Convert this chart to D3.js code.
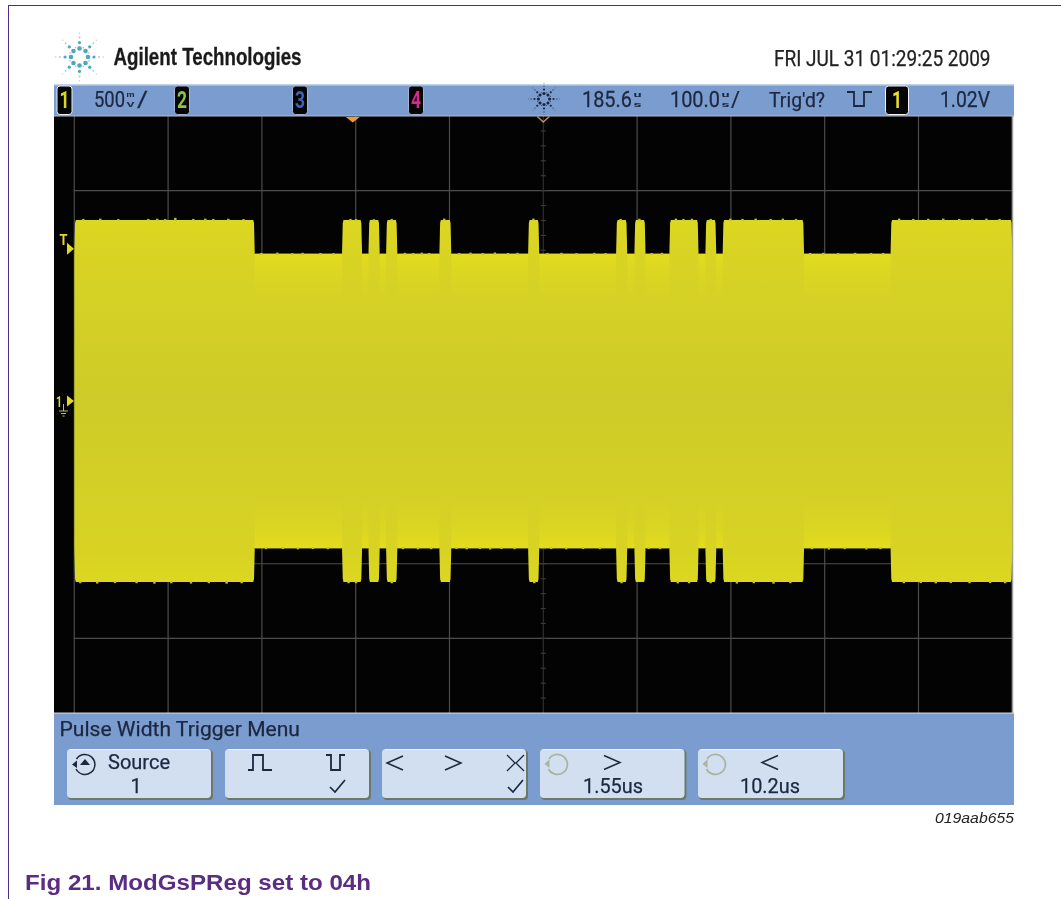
<!DOCTYPE html>
<html><head><meta charset="utf-8">
<script src="https://cdn.jsdelivr.net/npm/d3@7/dist/d3.min.js"></script>
<style>html,body{margin:0;padding:0;background:#fff}svg{display:block;filter:blur(.4px)}text{font-family:Roboto,sans-serif}</style>
</head><body><svg id="c" width="1061" height="899"></svg>
<script>
// ---- data ----
const timePerDiv = 100, timeCentre = 185.6;      // us
const voltPerDiv = 0.5, triggerLevel = 1.02;     // V
const highLevel = 1.213, lowLevel = 0.985;       // V, symmetric about ground
const burstStart = [-314.4,-29,-0.8,18,74.8,169.4,263.2,282.7,320,358.4,376.8,555.8];
const burstEnd   = [-122,-7.6,11.2,30,87.5,181.3,275.1,294.6,351.1,370,463.6,685.6];
const topSpikes = [[-304.8,.007],[-286.7,.009],[-267.5,.006],[-235.5,.007],[-225.9,.008],[-217.4,.006],[-206.7,.014],[-187.5,.007],[-174.7,.009],[-166.2,.007],[-150.2,.008],[-134,.006],
 [-115,.007],[-98,.009],[-82,.006],[-71,.008],[-52,.007],[-38,.006],[-20,.007],[38,.008],[47,.007],[56,.009],[64,.007],[96,.007],[108,.009],[121,.007],[134,.01],[148,.007],[158,.008],[190,.007],[205,.008],[221,.006],[240,.008],[252,.007],[301,.007],[312,.008],
 [-14,.006],[5,.005],[24,.007],[80,.009],[175,.009],[268,.007],[288,.008],[327,.009],[335,.007],[344,.008],[364,.007],[385,.009],[398,.007],[412,.009],[428,.007],[441,.009],[455,.007],[470,.007],[484,.008],[500,.006],[518,.008],[535,.007],[548,.007],[565,.009],[580,.007],[596,.008],[612,.009],[629,.007],[643,.008],[658,.009],[672,.007]];
const bottomSpikes = [[-308,.008],[-290,.01],[-271,.007],[-248,.008],[-229,.011],[-211,.008],[-190,.01],[-171,.008],[-152,.011],[-136,.008],
 [-110,.008],[-92,.007],[-76,.009],[-60,.007],[-44,.008],[-22,.008],[-14,.008],[24,.008],[36,.008],[52,.009],[66,.008],[93,.007],[104,.009],[118,.007],[129,.01],[141,.007],[155,.008],[176,.008],[194,.007],[210,.009],[228,.007],[246,.008],[269,.008],[298,.007],[310,.008],[329,.009],[341,.008],[364,.008],[392,.01],[410,.008],[431,.011],[449,.008],[472,.008],[490,.01],[507,.008],[530,.01],[545,.008],[570,.008],[588,.007],[604,.009],[620,.007],[640,.008],[662,.007],[678,.008]];
const channelLabels = ["1","2","3","4"];
const channelColors = ["#d8d428","#8cc63f","#3f62b8","#d42a8a"];
const caption = "Fig 21. ModGsPReg set to 04h";

// ---- layout ----
const svg = d3.select("#c");
const xLeft=74.3, xRight=1012.3, yTop=116, yBot=713, gnd=401;
const x = d3.scaleLinear().domain([timeCentre-5*timePerDiv,timeCentre+5*timePerDiv]).range([xLeft,xRight]);
const pxPerVolt = (yBot-yTop)/8/voltPerDiv;
const y = d3.scaleLinear().domain([0,1]).range([gnd,gnd-pxPerVolt]);
const txt = (p,s,a)=>{const t=p.append("text").text(s);Object.entries(a).forEach(([k,v])=>t.attr(k,v));return t;};
const fit = (p,s,xx,yy,w,fs,fill)=>txt(p,s,{x:xx,y:yy,textLength:w,lengthAdjust:"spacingAndGlyphs","font-size":fs,fill:fill||"#1c2840",stroke:fill||"#1c2840","stroke-width":.25});
// same, narrowed with a transform so the text's box is the drawn width
const squeeze = (p,s,xx,yy,w,fs)=>{const t=txt(p,s,{"font-size":fs,fill:"#1c2840",stroke:"#1c2840","stroke-width":.25});
 const k=w/t.node().getComputedTextLength(); t.attr("transform",`translate(${xx},${yy}) scale(${k},1)`); return t;};

const defs = svg.append("defs");
function grad(id,stops){const g=defs.append("linearGradient").attr("id",id).attr("gradientUnits","userSpaceOnUse").attr("x1",0).attr("x2",0).attr("y1",y(highLevel)).attr("y2",y(-highLevel));
 stops.forEach(s=>g.append("stop").attr("offset",s[0]).attr("stop-color",s[1]).attr("stop-opacity",s[2]===undefined?1:s[2]));}
grad("body",[[0,"#dcd720"],[.08,"#d9d423"],[.25,"#d4d026"],[.5,"#cecb28"],[.75,"#d4d026"],[.92,"#d8d323"],[1,"#dcd720"]]);
grad("lowGlow",[[0.09,"#e6df1c",0],[.095,"#e6df1c",.8],[.14,"#e2dc1e",.45],[.24,"#dcd622",0],[.76,"#dcd622",0],[.86,"#e2dc1e",.45],[.905,"#e6df1c",.8],[.91,"#e6df1c",0]]);

// ---- page frame ----
svg.append("rect").attr("width",1061).attr("height",899).attr("fill","#fff");
svg.append("line").attr("x1",8).attr("x2",1061).attr("y1",5.5).attr("y2",5.5).attr("stroke","#4f2d8c").attr("stroke-width",1);
svg.append("line").attr("x1",8.5).attr("x2",8.5).attr("y1",5).attr("y2",899).attr("stroke","#4f2d8c").attr("stroke-width",1);

// ---- header ----
function spark(cx,cy,k,c1,c2){const g=svg.append("g");
 d3.range(8).forEach(i=>{const a=i*Math.PI/4;
  [[10,2.7,c1],[17,1.9,c1],[23,1.2,c2],[28,.8,c2]].forEach(d=>{
   g.append("circle").attr("cx",cx+Math.cos(a)*d[0]*k).attr("cy",cy+Math.sin(a)*d[0]*k).attr("r",d[1]*k).attr("fill",d[2]);});});
 d3.range(8).forEach(i=>{const a=i*Math.PI/4+Math.PI/8;g.append("circle").attr("cx",cx+Math.cos(a)*12*k).attr("cy",cy+Math.sin(a)*12*k).attr("r",1*k).attr("fill",c2);});
}
spark(79.5,57,.85,"#4fa6c0","#a8d0dc");
txt(svg,"Agilent Technologies",{x:113.5,y:65,"font-size":23,"font-weight":700,fill:"#1a1a1a",stroke:"#1a1a1a","stroke-width":.3,textLength:188,lengthAdjust:"spacingAndGlyphs",style:"font-family:'Liberation Sans',Arial,sans-serif"});
fit(svg,"FRI JUL 31 01:29:25 2009",774,66,216.5,22,"#222");

// ---- top bar ----
svg.append("rect").attr("x",54).attr("y",84.5).attr("width",960).attr("height",32).attr("fill","#7b9ccf");
svg.append("line").attr("x1",54).attr("x2",1014).attr("y1",85).attr("y2",85).attr("stroke","#c8d6ea");
const chipX=[57,174.5,292.5,408.5];
function chip(cx,w,label,col,border){
 svg.append("rect").attr("x",cx).attr("y",86).attr("width",w).attr("height",28.5).attr("rx",3).attr("fill","#050505").attr("stroke",border).attr("stroke-width",1);
 txt(svg,label,{x:cx+w/2,y:108,"text-anchor":"middle","font-size":23,"font-weight":700,fill:col,textLength:10,lengthAdjust:"spacingAndGlyphs"});
}
channelLabels.forEach((l,i)=>chip(chipX[i],15,l,channelColors[i],i==0?"#e8eef6":"#9fb4d6"));
chip(885.5,23,"1","#e8e030","#f0f4fa");
function stack(xx,a,b){txt(svg,a,{x:xx,y:97,"font-size":8,"font-weight":700,fill:"#1c2840",textLength:8,lengthAdjust:"spacingAndGlyphs"});
 txt(svg,b,{x:xx,y:106.5,"font-size":8,"font-weight":700,fill:"#1c2840",textLength:8,lengthAdjust:"spacingAndGlyphs"});}
squeeze(svg,"500",94,107,31,22); stack(126.5,"m","V"); squeeze(svg,"/",137,107,11,22);
spark(544,99,.56,"#16233c","#2c3d5c");
squeeze(svg,"185.6",582,107,50,22); stack(633.5,"u","s");
squeeze(svg,"100.0",670,107,50,22); stack(721.5,"u","s"); squeeze(svg,"/",731,107,9,22);
fit(svg,"Trig'd?",769,107,56,21);
svg.append("path").attr("d","M847,92H854V106H864V92H872").attr("fill","none").attr("stroke","#1c2840").attr("stroke-width",1.8);
fit(svg,"1.02V",940,107,50,22);

// ---- screen ----
svg.append("rect").attr("x",54).attr("y",116).attr("width",958.5).attr("height",597).attr("fill","#030303");
const xGrid=d3.range(-5,6).map(d=>timeCentre+d*timePerDiv);
const yDiv=d3.range(1,8).map(d=>(yTop+(yBot-yTop)*d/8-gnd)/-pxPerVolt); // volts of each horizontal graticule line
const grid=svg.append("g").attr("stroke","#4c4c4c").attr("stroke-width",1.2);
xGrid.filter(t=>t!==timeCentre).forEach(t=>grid.append("line").attr("x1",x(t)).attr("x2",x(t)).attr("y1",yTop).attr("y2",yBot));
yDiv.forEach(v=>grid.append("line").attr("x1",xLeft).attr("x2",xRight).attr("y1",y(v)).attr("y2",y(v)));
grid.append("line").attr("x1",x(timeCentre)).attr("x2",x(timeCentre)).attr("y1",yTop).attr("y2",yBot).attr("stroke","#2e2e2e");
d3.range(1,40).forEach(i=>{const yy=yTop+i*(yBot-yTop)/40;grid.append("line").attr("x1",x(timeCentre)-2.5).attr("x2",x(timeCentre)+2.5).attr("y1",yy).attr("y2",yy).attr("stroke","#3a3a3a");});
svg.append("line").attr("x1",1012.5).attr("x2",1012.5).attr("y1",yTop).attr("y2",yBot).attr("stroke","#9a9a9a").attr("stroke-width",1.5);
svg.append("line").attr("x1",54).attr("x2",1014).attr("y1",713).attr("y2",713).attr("stroke","#c4cede").attr("stroke-width",1.2);
svg.append("line").attr("x1",54).attr("x2",1014).attr("y1",116).attr("y2",116).attr("stroke","#b4bcc8").attr("stroke-width",1);

// ---- trace envelope ----
const trace=svg.append("g").style("filter","blur(.5px)");
const ramp=.8;
let tp=[];
burstStart.forEach((s,i)=>{tp.push([s,lowLevel],[s+ramp,highLevel-.02],[s+ramp*2,highLevel],[burstEnd[i]-ramp*2,highLevel],[burstEnd[i]-ramp,highLevel-.02],[burstEnd[i],lowLevel]);});
const area=d3.area().x(d=>x(d[0])).y0(d=>y(-d[1])).y1(d=>y(d[1]));
trace.append("path").datum(tp).attr("d",area).attr("fill","url(#body)");
// brighter band hugging the envelope edge where the carrier is at low level
const gaps=burstStart.slice(1).map((s,i)=>[burstEnd[i],s]);
trace.selectAll("rect.gap").data(gaps).join("rect").attr("x",d=>x(d[0])).attr("width",d=>x(d[1])-x(d[0]))
 .attr("y",y(highLevel)).attr("height",y(-highLevel)-y(highLevel)).attr("fill","url(#lowGlow)");
// hand-read noise spikes on the edges
const levelAt=t=>burstStart.some((s,i)=>t>=s&&t<=burstEnd[i])?highLevel:lowLevel;
trace.selectAll("rect.ts").data(topSpikes).join("rect").attr("x",d=>x(d[0])-1.2).attr("width",2.4)
 .attr("y",d=>y(levelAt(d[0])+d[1])).attr("height",d=>y(levelAt(d[0]))-y(levelAt(d[0])+d[1])+1).attr("fill","#c8c424");
trace.selectAll("rect.bs").data(bottomSpikes).join("rect").attr("x",d=>x(d[0])-1.2).attr("width",2.4)
 .attr("y",d=>y(-levelAt(d[0]))-1).attr("height",d=>y(-levelAt(d[0])-d[1])-y(-levelAt(d[0]))+1).attr("fill","#c8c424");

// ---- markers ----
svg.append("path").attr("d",`M${x(-17.5)-7},117L${x(-17.5)+7},117L${x(-17.5)},122.5Z`).attr("fill","#f09a3c");
svg.append("path").attr("d",`M${x(timeCentre)-6},116.5L${x(timeCentre)},122L${x(timeCentre)+6},116.5`).attr("fill","none").attr("stroke","#c89060").attr("stroke-width",1.3);
txt(svg,"T",{x:59.5,y:245,"font-size":15,"font-weight":700,fill:"#e0da30",textLength:8,lengthAdjust:"spacingAndGlyphs"});
svg.append("path").attr("d",`M67,${y(triggerLevel)-6}L74,${y(triggerLevel)}L67,${y(triggerLevel)+6}Z`).attr("fill","#e0da20");
txt(svg,"1",{x:56,y:407,"font-size":15,"font-weight":700,fill:"#e0da30",textLength:6,lengthAdjust:"spacingAndGlyphs"});
svg.append("path").attr("d",`M67,${y(0)-5.5}L74,${y(0)}L67,${y(0)+5.5}Z`).attr("fill","#e0da20");
svg.append("path").attr("d","M63.5,404V411M59,411H68M61,413.5H66M62.5,416H64.5").attr("fill","none").attr("stroke","#c8c230").attr("stroke-width",1);

// ---- bottom menu ----
svg.append("rect").attr("x",54).attr("y",713.5).attr("width",960).attr("height",91.5).attr("fill","#7b9ccf");
fit(svg,"Pulse Width Trigger Menu",59.5,735.5,240.5,20);
const btnX=[67,225,382,540,698], btnW=[145,145,145,145.5,146];
btnX.forEach((bx,i)=>{
 svg.append("rect").attr("x",bx+1).attr("y",750).attr("width",btnW[i]).attr("height",50).attr("rx",4).attr("fill","#6c7868");
 svg.append("rect").attr("x",bx).attr("y",749).attr("width",btnW[i]-1).attr("height",49).attr("rx",4).attr("fill","#d2dff1");
 svg.append("path").attr("d",`M${bx+3},749.5H${bx+btnW[i]-4}`).attr("stroke","#eef3fa").attr("fill","none");
});
const ink="#1c2840";
// source knob icon
svg.append("path").attr("d","M76.5,759A10,10 0 1 1 76,769").attr("fill","none").attr("stroke",ink).attr("stroke-width",1.5);
svg.append("path").attr("d","M72,764.5L77,760.5L77,768Z M80,765L85,759L90,765Z").attr("fill",ink);
fit(svg,"Source",108,769,62,20);
txt(svg,"1",{x:136,y:792.5,"text-anchor":"middle","font-size":20,fill:ink,stroke:ink,"stroke-width":.25});
svg.append("path").attr("d","M248,770H253V755H263V770H272").attr("fill","none").attr("stroke",ink).attr("stroke-width",1.8);
svg.append("path").attr("d","M326,755H331V770H340V755H345").attr("fill","none").attr("stroke",ink).attr("stroke-width",1.8);
const check=(cx,cy)=>svg.append("path").attr("d",`M${cx-7},${cy}L${cx-2},${cy+5}L${cx+8},${cy-7}`).attr("fill","none").attr("stroke",ink).attr("stroke-width",1.7);
check(337,787); check(515,787);
const chev=(cx,cy,dir)=>svg.append("path").attr("d",dir>0?`M${cx-8},${cy-7}L${cx+8},${cy}L${cx-8},${cy+7}`:`M${cx+8},${cy-7}L${cx-8},${cy}L${cx+8},${cy+7}`).attr("fill","none").attr("stroke",ink).attr("stroke-width",1.5);
chev(395,763,-1); chev(453,763,1);
svg.append("path").attr("d","M507,755L515,763L507,771M524,755L516,763L524,771").attr("fill","none").attr("stroke",ink).attr("stroke-width",1.3);
[558,716].forEach(cx=>{
 svg.append("path").attr("d",`M${cx-9},759A10,10 0 1 1 ${cx-9.5},769`).attr("fill","none").attr("stroke","#a9b39d").attr("stroke-width",1.7);
 svg.append("path").attr("d",`M${cx-13.5},764L${cx-8.5},759.5L${cx-8.5},768Z`).attr("fill","#a9b39d");
});
chev(612,762.5,1); fit(svg,"1.55us",583,792.5,60,21);
chev(770,762.5,-1); fit(svg,"10.2us",740,792.5,60,21);

// ---- notes ----
txt(svg,"019aab655",{x:935,y:822.5,"font-size":15,"font-style":"italic",fill:"#222",textLength:79,lengthAdjust:"spacingAndGlyphs",style:"font-family:'Liberation Sans',Arial,sans-serif"});
txt(svg,caption,{x:25,y:889.5,"font-size":21.5,"font-weight":700,fill:"#5a2d82",textLength:346,lengthAdjust:"spacingAndGlyphs",style:"font-family:'Liberation Sans',Arial,sans-serif"});
</script></body></html>
